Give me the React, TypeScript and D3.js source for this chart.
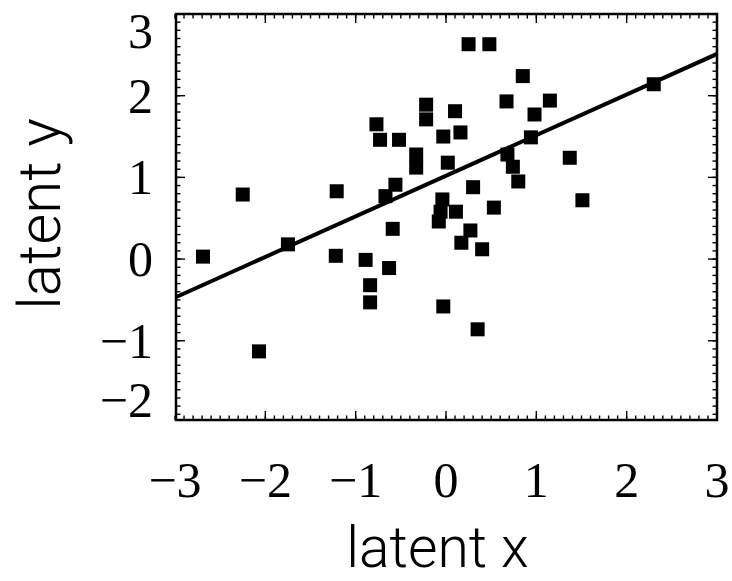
import React from "react";
import * as d3 from "d3";

// Data
const xs = [-2.69, -2.25, -2.07, -1.75, -1.21, -1.22, -0.89, -0.84, -0.84, -0.77, -0.73, -0.52,
  -0.63, -0.59, -0.56, -0.67, -0.33, -0.33, -0.22, -0.22, -0.04, -0.06, 0.11, -0.08,
  -0.03, 0.02, 0.10, 0.16, -0.03, 0.25, 0.48, 0.30, 0.17, 0.27, 0.40, 0.35,
  0.53, 0.67, 0.85, 0.68, 0.74, 0.80, 0.94, 0.98, 1.15, 1.37, 1.51, 2.30];
const ys = [0.03, 0.79, -1.13, 0.18, 0.83, 0.04, -0.01, -0.32, -0.53, 1.65, 1.46, 1.46,
  -0.11, 0.37, 0.91, 0.77, 1.28, 1.12, 1.89, 1.71, 0.73, 0.58, 0.58, 0.46,
  1.50, 1.18, 1.81, 1.55, -0.58, 2.63, 2.63, 0.88, 0.20, 0.35, 0.12, -0.86,
  0.63, 1.93, 2.24, 1.28, 1.13, 0.95, 1.49, 1.77, 1.94, 1.24, 0.72, 2.14];
const lineIntercept = 1.02;
const lineSlope = 0.497;
const xTicks = [-3, -2, -1, 0, 1, 2, 3];
const yTicks = [-2, -1, 0, 1, 2, 3];
const xTitle = "latent x";
const yTitle = "latent y";

const W = 732, H = 581;
const L = 176, R = 717, T = 14, B = 420;

function fmt(v: number) {
  return v < 0 ? "\u2212" + Math.abs(v) : String(v);
}

export default function App() {
  const x = d3.scaleLinear().domain([-3, 3]).range([L - 1, R]);
  const y = d3.scaleLinear().domain([-1.97, 3.0]).range([B, T]);
  const minorX = d3.range(-30, 31).map((i) => i / 10);
  const minorY = d3.range(-19, 31).map((i) => i / 10);
  const majX = [-2, -1, 0, 1, 2];
  const majY = [-1, 0, 1, 2];
  const sq = 14;
  const pts = xs.map((v, i) => ({ x: v, y: ys[i] }));
  const lineGen = d3.line<number>().x((d) => x(d)).y((d) => y(lineIntercept + lineSlope * d));
  const serif = "'Liberation Serif', 'Times New Roman', serif";
  const sans = "Roboto, 'Liberation Sans', Arial, sans-serif";
  return (
    <svg width={W} height={H} style={{ position: "absolute", left: 0, top: 0, background: "#fff" }}>
      <defs>
        <clipPath id="plot">
          <rect x={L} y={T} width={R - L} height={B - T} />
        </clipPath>
      </defs>
      {/* points */}
      <g clipPath="url(#plot)">
        {pts.map((p, i) => (
          <rect key={i} x={x(p.x) - sq / 2} y={y(p.y) - sq / 2} width={sq} height={sq} fill="#000" />
        ))}
        <path d={lineGen([-3, 3]) || ""} stroke="#000" strokeWidth={4} fill="none" />
      </g>
      {/* ticks */}
      <g stroke="#000" strokeWidth={1.4}>
        {minorX.map((v, i) => (
          <g key={"mx" + i}>
            <line x1={x(v)} x2={x(v)} y1={B} y2={B - 4.5} />
            <line x1={x(v)} x2={x(v)} y1={T} y2={T + 4.5} />
          </g>
        ))}
        {minorY.map((v, i) => (
          <g key={"my" + i}>
            <line x1={L} x2={L + 4.5} y1={y(v)} y2={y(v)} />
            <line x1={R} x2={R - 4.5} y1={y(v)} y2={y(v)} />
          </g>
        ))}
        {majX.map((v, i) => (
          <g key={"Mx" + i}>
            <line x1={x(v)} x2={x(v)} y1={B} y2={B - 9} />
            <line x1={x(v)} x2={x(v)} y1={T} y2={T + 9} />
          </g>
        ))}
        {majY.map((v, i) => (
          <g key={"My" + i}>
            <line x1={L} x2={L + 9} y1={y(v)} y2={y(v)} />
            <line x1={R} x2={R - 9} y1={y(v)} y2={y(v)} />
          </g>
        ))}
      </g>
      <rect x={L} y={T} width={R - L} height={B - T} fill="none" stroke="#000" strokeWidth={2.5} />
      {/* tick labels */}
      <g fontFamily={serif} fontSize={50} fill="#000">
        {xTicks.map((v) => (
          <text key={"xl" + v} x={x(v)} y={497} textAnchor="middle">{fmt(v)}</text>
        ))}
        {yTicks.map((v) => (
          <text key={"yl" + v} x={153} y={Math.max(31, Math.min(400, y(v))) + 17} textAnchor="end">{fmt(v)}</text>
        ))}
      </g>
      {/* titles */}
      <text x={437.5} y={567} textAnchor="middle" fontFamily={sans} fontWeight={300} fontSize={57} fill="#000">{xTitle}</text>
      <text transform="translate(60,214) rotate(-90)" textAnchor="middle" fontFamily={sans} fontWeight={300} fontSize={60} fill="#000">{yTitle}</text>
    </svg>
  );
}
